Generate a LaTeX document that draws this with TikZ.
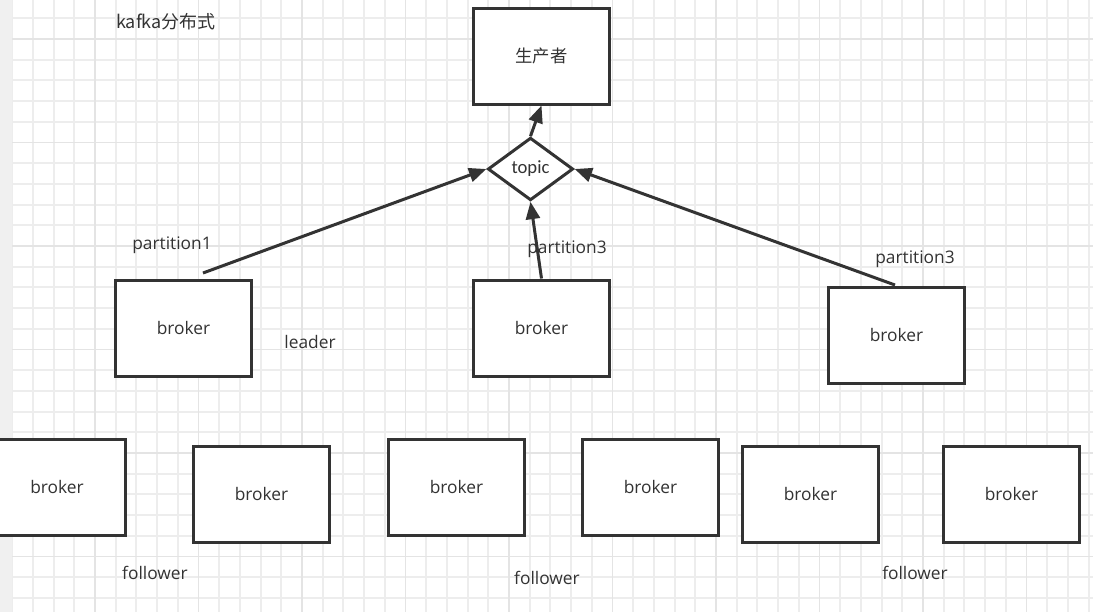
\documentclass[tikz,border=0pt]{standalone}
\usepackage{fontspec}
\setmainfont{Open Sans}
\newfontfamily\cjkfont{Noto Sans CJK SC}
\newfontfamily\topicfont{Carlito}
\usetikzlibrary{arrows.meta,shapes.geometric}
\definecolor{ink}{HTML}{333333}
\definecolor{gridminor}{HTML}{EDEDED}
\definecolor{gridmajor}{HTML}{E4E4E4}
\definecolor{strip}{HTML}{F0F0F0}

\begin{document}
\begin{tikzpicture}[x=0.75pt,y=-0.75pt,
  brokerbox/.style={draw=ink,line width=2.25pt,fill=white,minimum width=102.5pt,minimum height=72pt,font=\fontsize{13}{15}\selectfont,text=ink},
  topicbox/.style={diamond,draw=ink,line width=2.25pt,fill=white,inner sep=0pt,minimum width=64pt,minimum height=47pt,font=\topicfont\fontsize{14}{16}\selectfont,text=ink},
  lbl/.style={font=\fontsize{13}{15}\selectfont,text=ink},
  link/.style={draw=ink,line width=2.25pt,-{Triangle[length=13pt,width=10.5pt]}}]
\useasboundingbox (0,0) rectangle (1093,612);
% grid paper
\fill[white] (0,0) rectangle (1093,612);
\foreach \i in {-4,...,48}
  \draw[gridminor,line width=1.4pt] ({95+\i*20.7},0) -- ({95+\i*20.7},612);
\foreach \j in {-1,...,29}
  \draw[gridminor,line width=1.4pt] (0,{39+\j*20.7}) -- (1093,{39+\j*20.7});
\foreach \i in {-1,...,10}
  \draw[gridmajor,line width=1.4pt] ({95+\i*103.5},0) -- ({95+\i*103.5},612);
\foreach \j in {0,...,6}
  \draw[gridmajor,line width=1.4pt] (0,{39+\j*103.5}) -- (1093,{39+\j*103.5});
\fill[strip] (0,0) rectangle (12,612);

\node[lbl,font=\cjkfont\fontsize{13.5}{15}\selectfont] (title) at (166,22) {kafka分布式};

% producer and topic
\node[brokerbox,font=\cjkfont\fontsize{13}{15}\selectfont] (prod) at (541.5,56) {生产者};
\node[topicbox] (topic) at (530.5,169) {topic};

% leaders
\node[brokerbox] (lead1) at (183.5,328) {broker};
\node[brokerbox] (lead2) at (541.5,328) {broker};
\node[brokerbox] (lead3) at (896.5,335) {broker};
\coordinate (from1) at (203,273);
\coordinate (from3) at (895,285);

\node[lbl] (part1) at (172,245) {partition1};
\node[lbl] (part2) at (567,249) {partition3};
\node[lbl] (part3) at (915,259) {partition3};
\node[lbl] (lead) at (310,342) {leader};

\draw[link] (from1) -- (topic.west);
\draw[link] (lead2.north) -- (topic.south);
\draw[link] (from3) -- (topic.east);
\draw[link] (topic.north) -- (prod.south);

% followers
\node[brokerbox] (fol1) at (57,487) {broker};
\node[brokerbox] (fol2) at (261.5,494) {broker};
\node[brokerbox] (fol3) at (456.5,487) {broker};
\node[brokerbox] (fol4) at (650.5,487) {broker};
\node[brokerbox] (fol5) at (810.5,494) {broker};
\node[brokerbox] (fol6) at (1011.5,494) {broker};

\node[lbl] (foll1) at (155,573) {follower};
\node[lbl] (foll2) at (547,578) {follower};
\node[lbl] (foll3) at (915,573) {follower};
\end{tikzpicture}
\end{document}
